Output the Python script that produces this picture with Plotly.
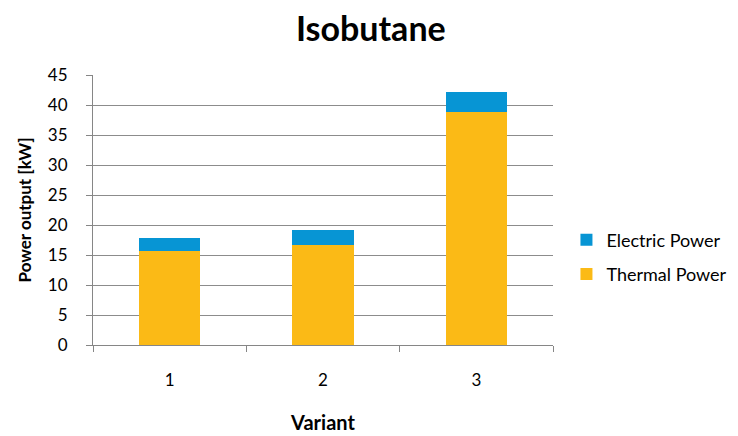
import plotly.graph_objects as go

categories = ["1", "2", "3"]
thermal_power = [15.7, 16.7, 38.8]
electric_power = [2.1, 2.5, 3.3]
y_ticks = [0, 5, 10, 15, 20, 25, 30, 35, 40, 45]

FONT = "Lato, Open Sans, sans-serif"

fig = go.Figure()
fig.add_trace(go.Bar(x=categories, y=thermal_power, name="Thermal Power",
                     marker=dict(color="#FBBA16", line=dict(width=0)),
                     legendgroup="t", legendrank=2))
fig.add_trace(go.Bar(x=categories, y=electric_power, name="Electric Power",
                     marker=dict(color="#0795D4", line=dict(width=0)),
                     legendgroup="e", legendrank=1))

# page body adds an 8px margin, so the figure is sized to fit the window
fig.update_layout(
    width=730, height=428,
    barmode="stack", bargap=0.6,
    paper_bgcolor="white", plot_bgcolor="white",
    margin=dict(l=85, r=185, t=67, b=91),
    font=dict(family=FONT, color="#000000"),
    title=dict(text="<b>Isobutane</b>", x=0.497, xref="container", xanchor="center",
               y=0.951, yref="container", yanchor="middle", font=dict(size=34, family=FONT)),
    legend=dict(traceorder="grouped", xref="container", x=0.765, xanchor="left",
                y=0.326, yanchor="middle",
                font=dict(size=18, family=FONT), tracegroupgap=8,
                itemwidth=30, bgcolor="rgba(0,0,0,0)"),
    showlegend=True,
)
fig.update_xaxes(
    type="category", tickson="boundaries", ticks="outside", ticklen=6,
    tickcolor="#868686", showline=True, linecolor="#868686", linewidth=1,
    showgrid=False, tickfont=dict(size=17), ticklabelstandoff=20,
    automargin=False,
    title=dict(text="<b>Variant</b>", font=dict(size=20), standoff=26),
)
fig.update_yaxes(
    range=[0, 45], tickvals=y_ticks, ticks="outside", ticklen=6,
    tickcolor="#868686", showline=True, linecolor="#868686", linewidth=1,
    showgrid=True, gridcolor="#8c8c8c", gridwidth=1, zeroline=False,
    tickfont=dict(size=17), ticklabelstandoff=15, automargin=False,
    title=dict(text="<b>Power output [kW]</b>", font=dict(size=17), standoff=11),
)

fig.write_html("out.html")
